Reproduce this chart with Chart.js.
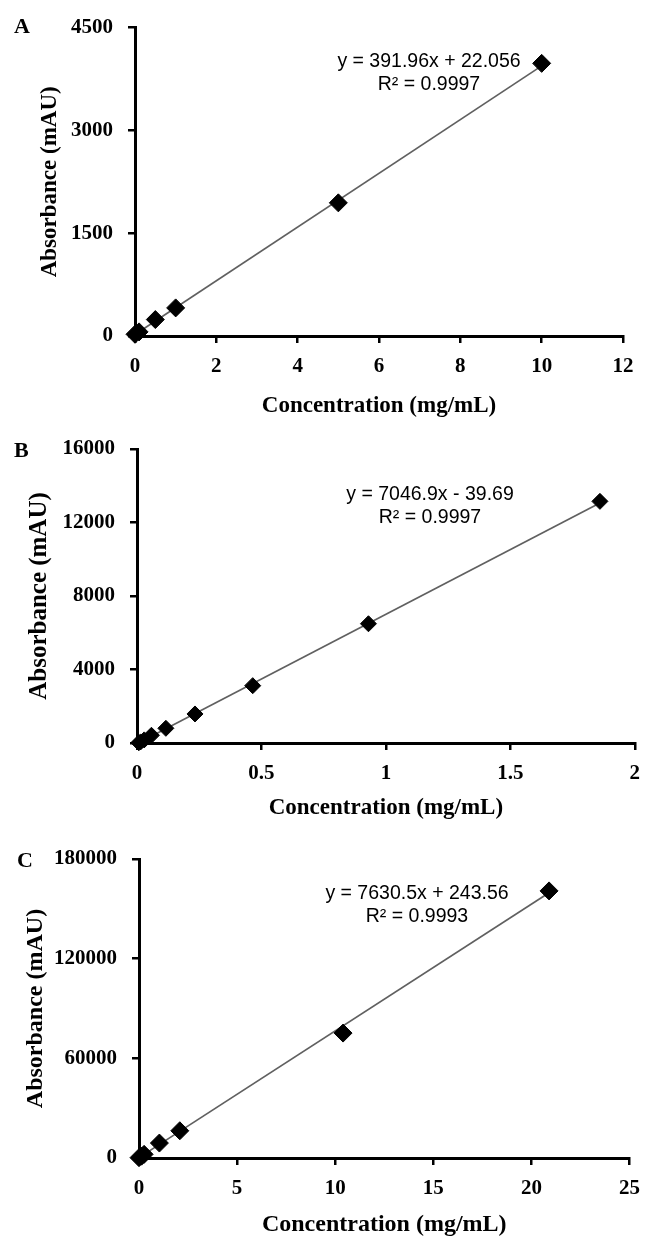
<!DOCTYPE html>
<html lang="en">
<head>
<meta charset="utf-8">
<title>Calibration curves A, B, C</title>
<script src="https://cdn.jsdelivr.net/npm/chart.js@4.4.1/dist/chart.umd.min.js"></script>
<style>
  body { margin: 0; background: #fff; }
  #page { position: relative; width: 651px; height: 1240px; overflow: hidden; }
  canvas { position: absolute; left: 0; }
  .panel { position: absolute; font: bold 22px "Liberation Serif", serif; line-height: 24px; color: #000; }
  .eq { position: absolute; width: 260px; transform: translate(-50%, -50%); text-align: center;
        font: 19.5px "Liberation Sans", sans-serif; line-height: 23px; color: #000; }
</style>
</head>
<body>
<div id="page">
  <canvas id="cA" width="651" height="422" style="top:0px"></canvas>
  <canvas id="cB" width="651" height="404" style="top:420px"></canvas>
  <canvas id="cC" width="651" height="410" style="top:830px"></canvas>

  <div class="panel" style="left:14px;top:14px">A</div>
  <div class="panel" style="left:14px;top:438px">B</div>
  <div class="panel" style="left:17px;top:848px">C</div>

  <div class="eq" style="left:429px;top:72px">y = 391.96x + 22.056<br>R² = 0.9997</div>
  <div class="eq" style="left:430px;top:505px">y = 7046.9x - 39.69<br>R² = 0.9997</div>
  <div class="eq" style="left:417px;top:904px">y = 7630.5x + 243.56<br>R² = 0.9993</div>
</div>
<script>
  // A
  var concA = [0, 0.1, 0.5, 1, 5, 10];
  var absA = [25, 60, 240, 410, 1943, 3978];
  var trendA = [[0, 22.056], [10, 3941.7]];
  var xTicksA = [0, 2, 4, 6, 8, 10, 12];
  var yTicksA = [0, 1500, 3000, 4500];

  // B
  var concB = [0.0073, 0.0145, 0.029, 0.058, 0.116, 0.233, 0.465, 0.93, 1.86];
  var absB = [15, 60, 170, 420, 800, 1580, 3120, 6490, 13150];
  var trendB = [[0.0056, 0], [1.86, 13067.5]];
  var xTicksB = [0, 0.5, 1, 1.5, 2];
  var yTicksB = [0, 4000, 8000, 12000, 16000];

  // C
  var concC = [0, 0.13, 0.26, 1.04, 2.08, 10.4, 20.9];
  var absC = [200, 1100, 2200, 9000, 16400, 75200, 160800];
  var trendC = [[0, 243.56], [20.9, 159721.0]];
  var xTicksC = [0, 5, 10, 15, 20, 25];
  var yTicksC = [0, 60000, 120000, 180000];

  Chart.defaults.color = '#000';
  Chart.defaults.font.family = '"Liberation Serif", serif';

  function makeChart(id, c) {
    var pts = c.x.map(function (v, i) { return { x: v, y: c.y[i] }; });
    var line = c.trend.map(function (p) { return { x: p[0], y: p[1] }; });
    var tickFont = { size: 21, weight: 'bold' };
    return new Chart(document.getElementById(id), {
      type: 'scatter',
      data: {
        datasets: [
          { data: pts, pointStyle: 'rectRot', pointRadius: c.r, pointHoverRadius: c.r,
            backgroundColor: '#000', borderColor: '#000', borderWidth: 1, clip: false, order: 0 },
          { data: line, showLine: true, pointRadius: 0, borderColor: '#606060',
            borderWidth: 1.7, clip: false, order: 1 }
        ]
      },
      options: {
        responsive: false,
        animation: false,
        devicePixelRatio: 1,
        layout: { padding: { top: c.top, right: c.right, bottom: 0, left: 0 } },
        plugins: { legend: { display: false }, tooltip: { enabled: false } },
        scales: {
          x: {
            type: 'linear', min: c.xTicks[0], max: c.xTicks[c.xTicks.length - 1],
            afterBuildTicks: function (s) { s.ticks = c.xTicks.map(function (v) { return { value: v }; }); },
            afterFit: function (s) { s.height = c.xH; },
            border: { color: '#000', width: 3 },
            grid: { drawOnChartArea: false, color: '#000', lineWidth: 2.5, tickLength: 7 },
            ticks: { font: tickFont, padding: 11, autoSkip: false, maxRotation: 0,
                     callback: function (v) { return String(v); } },
            title: { display: true, text: 'Concentration (mg/mL)',
                     font: { size: c.xtSize, weight: 'bold' }, padding: { top: 0, bottom: c.xtPad } }
          },
          y: {
            type: 'linear', min: c.yTicks[0], max: c.yTicks[c.yTicks.length - 1],
            afterBuildTicks: function (s) { s.ticks = c.yTicks.map(function (v) { return { value: v }; }); },
            afterFit: function (s) { s.width = c.left; },
            border: { color: '#000', width: 3 },
            grid: { drawOnChartArea: false, color: '#000', lineWidth: 2.5, tickLength: 7 },
            ticks: { font: tickFont, padding: 15, autoSkip: false,
                     callback: function (v) { return String(v); } },
            title: { display: true, text: 'Absorbance (mAU)',
                     font: { size: c.ytSize, weight: 'bold' }, padding: { top: c.ytPad, bottom: 0 } }
          }
        }
      }
    });
  }

  makeChart('cA', { x: concA, y: absA, trend: trendA, xTicks: xTicksA, yTicks: yTicksA, r: 9,
    top: 25, right: 28, left: 135, xH: 86, xtSize: 23, xtPad: 2, ytSize: 23, ytPad: 36 });
  makeChart('cB', { x: concB, y: absB, trend: trendB, xTicks: xTicksB, yTicks: yTicksB, r: 8,
    top: 29, right: 15, left: 137, xH: 81, xtSize: 23, xtPad: 2, ytSize: 25, ytPad: 25 });
  makeChart('cC', { x: concC, y: absC, trend: trendC, xTicks: xTicksC, yTicks: yTicksC, r: 9,
    top: 29, right: 15, left: 139, xH: 82, xtSize: 24, xtPad: 1, ytSize: 24, ytPad: 21 });
</script>
</body>
</html>
